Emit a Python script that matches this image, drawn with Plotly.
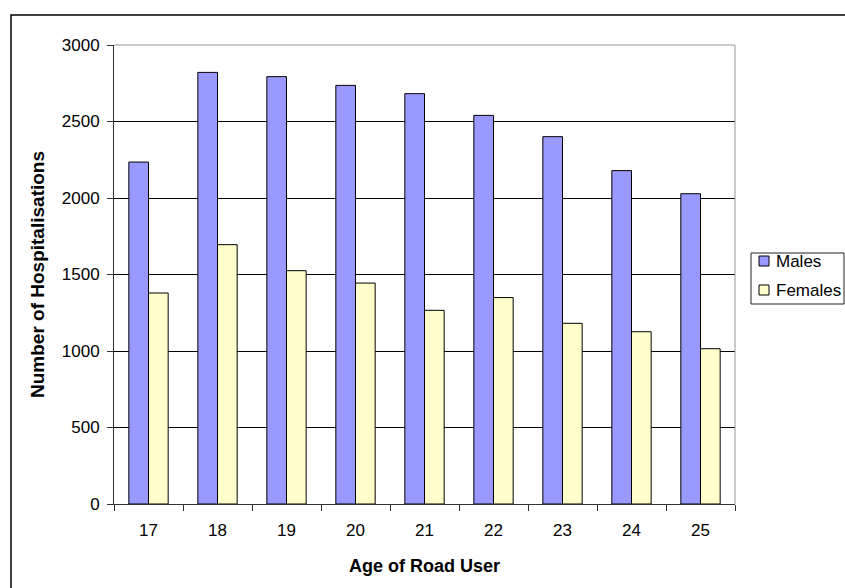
import plotly.graph_objects as go

ages = ["17", "18", "19", "20", "21", "22", "23", "24", "25"]
males = [2235, 2821, 2793, 2736, 2682, 2540, 2401, 2179, 2028]
females = [1379, 1695, 1525, 1444, 1266, 1349, 1181, 1126, 1015]

series_names = ["Males", "Females"]
series_colors = ["#9999FF", "#FFFFCC"]

W, H = 845, 588
L, R, T, B = 114, 110, 45, 84
pw, ph = W - L - R, H - T - B


def px_x(x):
    return (x - L) / pw


def px_y(y):
    return (H - B - y) / ph


fig = go.Figure()
for name, vals, col in zip(series_names, [males, females], series_colors):
    fig.add_trace(go.Bar(x=ages, y=vals, name=name, showlegend=False,
                         marker=dict(color=col, line=dict(color="#000000", width=1))))

font = dict(family="Liberation Sans, Arial, sans-serif", size=17, color="#000000")

fig.update_layout(
    width=W, height=H,
    margin=dict(l=L, r=R, t=T, b=B, autoexpand=False),
    paper_bgcolor="white", plot_bgcolor="white",
    font=font,
    barmode="group", bargap=0.43, bargroupgap=0,
    xaxis=dict(
        type="category", tickson="boundaries", ticks="outside", ticklen=6,
        tickcolor="#333333", showline=True, linecolor="#333333", linewidth=1,
        mirror=False, showgrid=False, ticklabelstandoff=11,
        title=dict(text="<b>Age of Road User</b>", standoff=19, font=dict(size=18)),
    ),
    yaxis=dict(
        range=[0, 3000], tickvals=[0, 500, 1000, 1500, 2000, 2500, 3000],
        ticks="outside", ticklen=6, tickcolor="#333333",
        showline=True, linecolor="#333333", linewidth=1, ticklabelstandoff=4,
        showgrid=True, gridcolor="#000000", gridwidth=1, zeroline=False,
        title=dict(text="<b>Number of Hospitalisations</b>", standoff=12, font=dict(size=19)),
    ),
)

# plot-area border on the top and right edges
fig.add_shape(type="line", xref="paper", yref="paper", x0=0, x1=1, y0=1, y1=1,
              line=dict(color="#999999", width=1))
fig.add_shape(type="line", xref="paper", yref="paper", x0=1, x1=1, y0=0, y1=1,
              line=dict(color="#999999", width=1))

# outer chart-area frame
fig.add_shape(type="rect", xref="paper", yref="paper",
              x0=px_x(11), x1=px_x(W + 10), y0=px_y(H + 10), y1=px_y(15),
              line=dict(color="#000000", width=1.5), layer="below")

# legend box with a small swatch and label per series
fig.add_shape(type="rect", xref="paper", yref="paper",
              x0=px_x(751), x1=px_x(844), y0=px_y(304), y1=px_y(253),
              line=dict(color="#222222", width=1), fillcolor="white")
for i, (name, col) in enumerate(zip(series_names, series_colors)):
    cy = 261 + i * 29
    fig.add_shape(type="rect", xref="paper", yref="paper",
                  x0=px_x(759), x1=px_x(769), y0=px_y(cy + 5), y1=px_y(cy - 5),
                  line=dict(color="#000000", width=1), fillcolor=col)
    fig.add_annotation(xref="paper", yref="paper", x=px_x(774), y=px_y(cy),
                       text=name, showarrow=False, xanchor="left", yanchor="middle",
                       font=dict(size=17))

fig.write_html("out.html")
